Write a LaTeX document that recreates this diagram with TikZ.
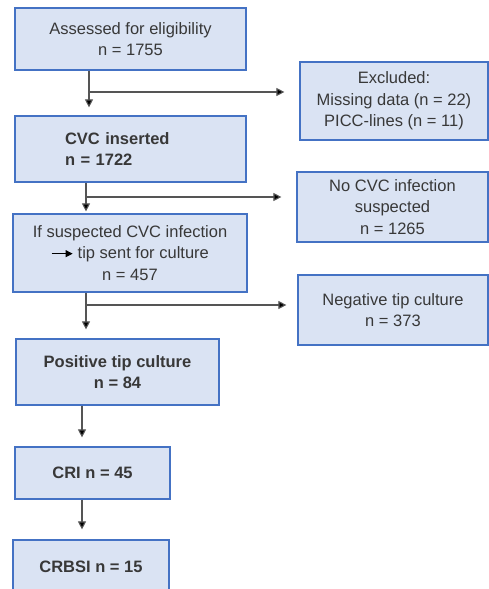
\documentclass[tikz,border=0pt]{standalone}
\usepackage{fontspec}
\setmainfont{Liberation Sans}
\usepackage{tikz}
\usetikzlibrary{arrows.meta}
\definecolor{boxfill}{HTML}{DAE3F3}
\definecolor{boxline}{HTML}{4472C4}
\definecolor{txt}{HTML}{383838}
\definecolor{lne}{HTML}{555555}

\begin{document}
\begin{tikzpicture}[x=1pt,y=-1pt,
		box/.style={draw=boxline,fill=boxfill,line width=1.2pt,text=txt,align=center,inner sep=0pt,font=\fontsize{16.5}{21.5}\selectfont},
		arr/.style={draw=lne,line width=1.1pt,-{Triangle[length=8pt,width=8pt,fill=black]}}]
		\useasboundingbox (0,0) rectangle (489,589);
		\node[box,minimum width=231,minimum height=62] (elig) at (130.5,39) {Assessed for eligibility\\n = 1755};
		\node[box,minimum width=188,minimum height=78] (excl) at (394,101) {Excluded:\\Missing data (n = 22)\\PICC-lines (n = 11)};
		\node[box,text width=131,inner xsep=50,minimum height=66,align=left,font=\fontsize{16.5}{21.5}\selectfont\bfseries] (cvc) at (130.5,149) {CVC inserted\\n = 1722};
		\node[box,minimum width=191,minimum height=70] (nocvc) at (392.5,207) {No CVC infection\\suspected\\n = 1265};
		\node[box,minimum width=234,minimum height=78] (tip) at (130,253) {If suspected CVC infection\\\tikz[baseline=-0.6ex]\draw[black,line width=1pt,-{Triangle[length=7pt,width=7pt]}] (0,0) -- (21,0); tip sent for culture\\n = 457};
		\node[box,minimum width=190,minimum height=70] (neg) at (393,310) {Negative tip culture\\n = 373};
		\node[box,minimum width=203,minimum height=66,font=\fontsize{16.5}{21.5}\selectfont\bfseries] (pos) at (117.5,372) {Positive tip culture\\n = 84};
		\node[box,minimum width=155,minimum height=52,font=\fontsize{16.5}{21.5}\selectfont\bfseries] (cri) at (92.5,473) {CRI n = 45};
		\node[box,minimum width=156,minimum height=54,font=\fontsize{16.5}{21.5}\selectfont\bfseries] (crbsi) at (91,567) {CRBSI n = 15};
		\coordinate (b1) at (89,92);
		\coordinate (b2) at (86,197);
		\coordinate (b3) at (86,305);
		\coordinate (v4) at (82,0);
		\draw[arr,shorten >=8] (elig.south -| b1) -- (cvc.north -| b1);
		\draw[arr,shorten >=15] (b1) -- (b1 -| excl.west);
		\draw[arr,shorten >=2] (cvc.south -| b2) -- (tip.north -| b2);
		\draw[arr,shorten >=15] (b2) -- (b2 -| nocvc.west);
		\draw[arr,shorten >=9] (tip.south -| b3) -- (pos.north -| b3);
		\draw[arr,shorten >=11] (b3) -- (b3 -| neg.west);
		\draw[arr,shorten >=9] (pos.south -| v4) -- (cri.north -| v4);
		\draw[arr,shorten >=10] (cri.south -| v4) -- (crbsi.north -| v4);
	\end{tikzpicture}
\end{document}
